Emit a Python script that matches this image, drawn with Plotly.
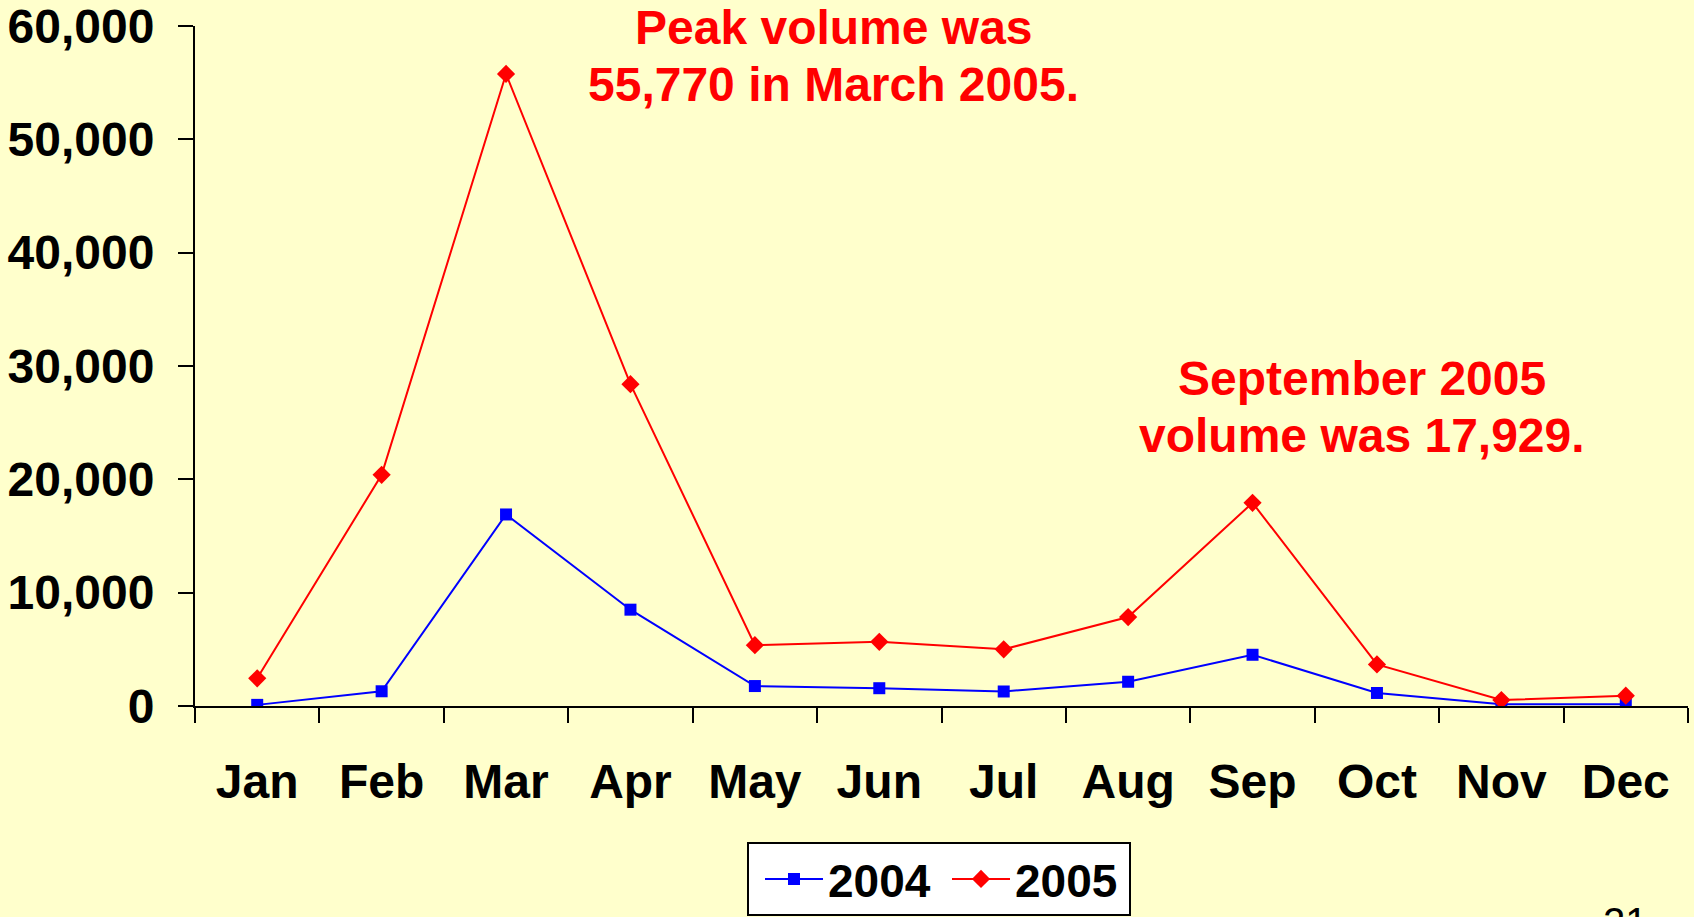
import plotly.graph_objects as go

months = ["Jan", "Feb", "Mar", "Apr", "May", "Jun", "Jul", "Aug", "Sep", "Oct", "Nov", "Dec"]
vol_2004 = [100, 1300, 16900, 8500, 1760, 1570, 1280, 2140, 4520, 1150, 150, 150]
vol_2005 = [2440, 20400, 55770, 28400, 5370, 5660, 5000, 7850, 17929, 3670, 530, 910]
y_ticks = [0, 10000, 20000, 30000, 40000, 50000, 60000]

FONT = "Liberation Sans, Arial, sans-serif"
BG = "#FFFFCC"

fig = go.Figure()
fig.add_trace(go.Scatter(
    x=months, y=vol_2004, name="2004", mode="lines+markers",
    line=dict(color="#0000FF", width=2),
    marker=dict(symbol="square", size=12, color="#0000FF"),
))
fig.add_trace(go.Scatter(
    x=months, y=vol_2005, name="2005", mode="lines+markers",
    line=dict(color="#FF0000", width=2),
    marker=dict(symbol="diamond", size=14, color="#FF0000"),
))

W, H = 1694, 917
L, R, T, B = 195, 6, 26, 211
pw, ph = W - L - R, H - T - B


def px(x):
    return (x - L) / pw


def py(y):
    return (H - B - y) / ph


ann_font = dict(family=FONT, size=48, color="#FF0000")
annotations = [
    dict(text="<b>Peak volume was</b>", x=px(834), y=py(28)),
    dict(text="<b>55,770 in March 2005.</b>", x=px(833), y=py(84)),
    dict(text="<b>September 2005</b>", x=px(1362), y=py(379)),
    dict(text="<b>volume was 17,929.</b>", x=px(1362), y=py(435)),
]
for a in annotations:
    fig.add_annotation(xref="paper", yref="paper", showarrow=False,
                       xanchor="center", yanchor="middle", font=ann_font, **a)

fig.add_annotation(text="21", xref="paper", yref="paper", x=px(1625), y=py(922),
                   xanchor="center", yanchor="middle", showarrow=False,
                   font=dict(family=FONT, size=40, color="#000000"))

# legend frame
fig.add_shape(type="rect", xref="paper", yref="paper",
              x0=px(748), x1=px(1130), y0=py(843), y1=py(915),
              fillcolor="#FFFFFF", line=dict(color="#000000", width=2), layer="below")

fig.update_layout(
    width=W, height=H,
    paper_bgcolor=BG, plot_bgcolor=BG,
    margin=dict(l=L, r=R, t=T, b=B, autoexpand=False),
    font=dict(family=FONT, size=48, color="#000000"),
    showlegend=True,
    legend=dict(
        orientation="h", xanchor="left", yanchor="middle",
        x=px(760), y=py(879),
        bgcolor="rgba(0,0,0,0)", borderwidth=0,
        font=dict(family=FONT, size=46, color="#000000", weight="bold"),
        itemwidth=58, entrywidth=114,
    ),
    xaxis=dict(
        type="category", range=[-0.5, 11.5], automargin=False,
        tickson="boundaries", ticks="outside", ticklen=15, tickwidth=2,
        tickcolor="#000000", showline=True, linecolor="#000000", linewidth=2,
        showgrid=False, zeroline=False, ticklabeloverflow="allow",
        tickfont=dict(family=FONT, size=48, color="#000000", weight="bold"),
        ticklabelstandoff=32,
    ),
    yaxis=dict(
        range=[0, 60000], tickvals=y_ticks, tickformat=",d", automargin=False,
        ticks="outside", ticklen=15, tickwidth=2, tickcolor="#000000",
        showline=True, linecolor="#000000", linewidth=2,
        showgrid=False, zeroline=False, ticklabeloverflow="allow",
        tickfont=dict(family=FONT, size=48, color="#000000", weight="bold"),
        ticklabelstandoff=14,
    ),
)

fig.write_html(
    "out.html",
    config={"displayModeBar": False},
    post_script="document.body.style.margin='0';document.body.style.background='#FFFFCC';",
)
